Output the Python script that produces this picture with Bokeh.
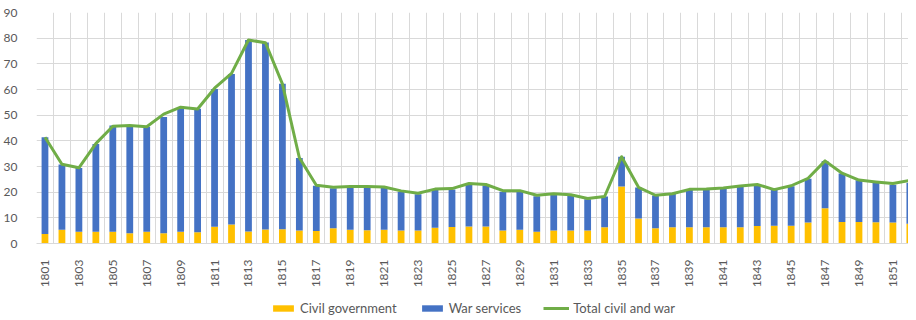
from bokeh.plotting import figure
from bokeh.layouts import column
from bokeh.models import Range1d, FixedTicker, Legend, LegendItem, ColumnDataSource
from bokeh.embed import file_html
from bokeh.resources import INLINE

years = list(range(1801, 1853))
civil = [3.7, 5.4, 4.6, 4.6, 4.6, 4.0, 4.6, 4.0, 4.6, 4.4, 6.5, 7.4, 4.7, 5.5, 5.6, 5.1, 4.9,
         5.9, 5.4, 5.2, 5.4, 5.1, 5.1, 6.1, 6.4, 6.6, 6.6, 5.1, 5.4, 4.6, 5.1, 5.1, 5.1, 6.3,
         22.2, 9.7, 5.9, 6.3, 6.3, 6.3, 6.3, 6.3, 6.8, 6.9, 6.9, 8.2, 13.7, 8.4, 8.4, 8.3, 8.2, 7.7]
war = [37.7, 25.4, 24.8, 34.2, 41.4, 42.1, 40.9, 45.3, 48.1, 48.1, 53.7, 58.6, 74.6, 72.8, 56.6, 28.2, 17.6,
       15.6, 16.4, 16.4, 16.2, 15.1, 14.1, 14.7, 14.6, 16.4, 16.0, 15.1, 14.8, 13.8, 13.9, 13.4, 12.1, 12.0,
       11.6, 12.1, 12.8, 13.0, 14.5, 14.6, 15.2, 16.0, 15.8, 14.1, 15.4, 17.0, 18.4, 18.9, 16.2, 15.3, 14.7, 16.0]
total = [41.4, 30.9, 29.5, 38.9, 45.7, 46.0, 45.5, 50.4, 53.1, 52.4, 60.5, 66.3, 79.3, 78.2, 62.2, 33.4, 22.7,
         21.9, 22.2, 22.2, 22.0, 20.5, 19.6, 21.2, 21.4, 23.4, 23.0, 20.6, 20.6, 18.8, 19.4, 19.0, 17.5, 18.3,
         33.8, 21.9, 18.8, 19.4, 21.1, 21.2, 21.6, 22.4, 23.0, 21.0, 22.5, 25.4, 32.2, 27.4, 24.7, 24.0, 23.4, 24.6]
y_ticks = [0, 10, 20, 30, 40, 50, 60, 70, 80, 90]
x_label_years = [y for y in years if y % 2 == 1]
series_names = ["Civil government", "War services", "Total civil and war"]

FONT = "Lato"
TXT = "#595959"
GRID = "#d9d9d9"
C_CIVIL, C_WAR, C_TOTAL = "#FFC000", "#4472C4", "#70AD47"

src = ColumnDataSource(dict(year=years, civil=civil, war=war, total=total))

p = figure(width=908, height=290, output_backend="svg", toolbar_location=None,
           x_range=Range1d(1800.5, 1851.92), y_range=Range1d(0, 90))
p.min_border_left = 29
p.min_border_right = 0
p.min_border_top = 12
p.min_border_bottom = 43
p.outline_line_color = None
p.background_fill_color = "white"
p.border_fill_color = "white"

p.vbar_stack(["civil", "war"], x="year", width=0.4, source=src,
             color=[C_CIVIL, C_WAR], line_color=None)
p.line("year", "total", source=src, line_color=C_TOTAL, line_width=3, line_join="round")

p.yaxis.ticker = FixedTicker(ticks=y_ticks)
p.yaxis.axis_line_color = None
p.yaxis.major_tick_line_color = None
p.yaxis.minor_tick_line_color = None
p.yaxis.major_label_standoff = 13
p.yaxis.major_label_text_font = FONT
p.yaxis.major_label_text_font_size = "12px"
p.yaxis.major_label_text_color = TXT

p.xaxis.ticker = FixedTicker(ticks=x_label_years)
p.xaxis.axis_line_color = GRID
p.xaxis.major_tick_line_color = None
p.xaxis.minor_tick_line_color = None
p.xaxis.major_label_orientation = 1.5707963
p.xaxis.major_label_standoff = 10
p.xaxis.major_label_text_font = FONT
p.xaxis.major_label_text_font_size = "12px"
p.xaxis.major_label_text_color = TXT

p.ygrid.ticker = FixedTicker(ticks=y_ticks)
p.ygrid.grid_line_color = GRID
p.xgrid.ticker = FixedTicker(ticks=[y - 0.5 for y in years] + [years[-1] + 0.5])
p.xgrid.grid_line_color = GRID

# legend strip: a separate figure whose key renderers sit outside its visible ranges
lg = figure(width=908, height=30, output_backend="svg", toolbar_location=None,
            x_range=Range1d(0, 1), y_range=Range1d(0, 1),
            x_axis_type=None, y_axis_type=None)
lg.min_border = 0
lg.min_border_left = 29
lg.min_border_right = 0
lg.outline_line_color = None
lg.xgrid.visible = False
lg.ygrid.visible = False
key_src = ColumnDataSource(dict(x=[-2.0, -1.0], y=[-2.0, -1.0]))
k1 = lg.vbar(x="x", top="y", width=0.4, source=key_src, color=C_CIVIL, line_color=None)
k2 = lg.vbar(x="x", top="y", width=0.4, source=key_src, color=C_WAR, line_color=None)
k3 = lg.line(x="x", y="y", source=key_src, line_color=C_TOTAL, line_width=3)

legend = Legend(items=[LegendItem(label=series_names[0], renderers=[k1]),
                       LegendItem(label=series_names[1], renderers=[k2]),
                       LegendItem(label=series_names[2], renderers=[k3])],
                orientation="horizontal", location=(234, 4))
legend.glyph_width = 26
legend.glyph_height = 8
legend.label_height = 16
legend.label_standoff = 4
legend.spacing = 22
legend.padding = 0
legend.margin = 0
legend.border_line_color = None
legend.background_fill_alpha = 0
legend.label_text_font = FONT
legend.label_text_font_size = "13px"
legend.label_text_color = TXT
lg.add_layout(legend, "center")

layout = column(p, lg, spacing=0)
open("out.html", "w").write(file_html(layout, INLINE))
